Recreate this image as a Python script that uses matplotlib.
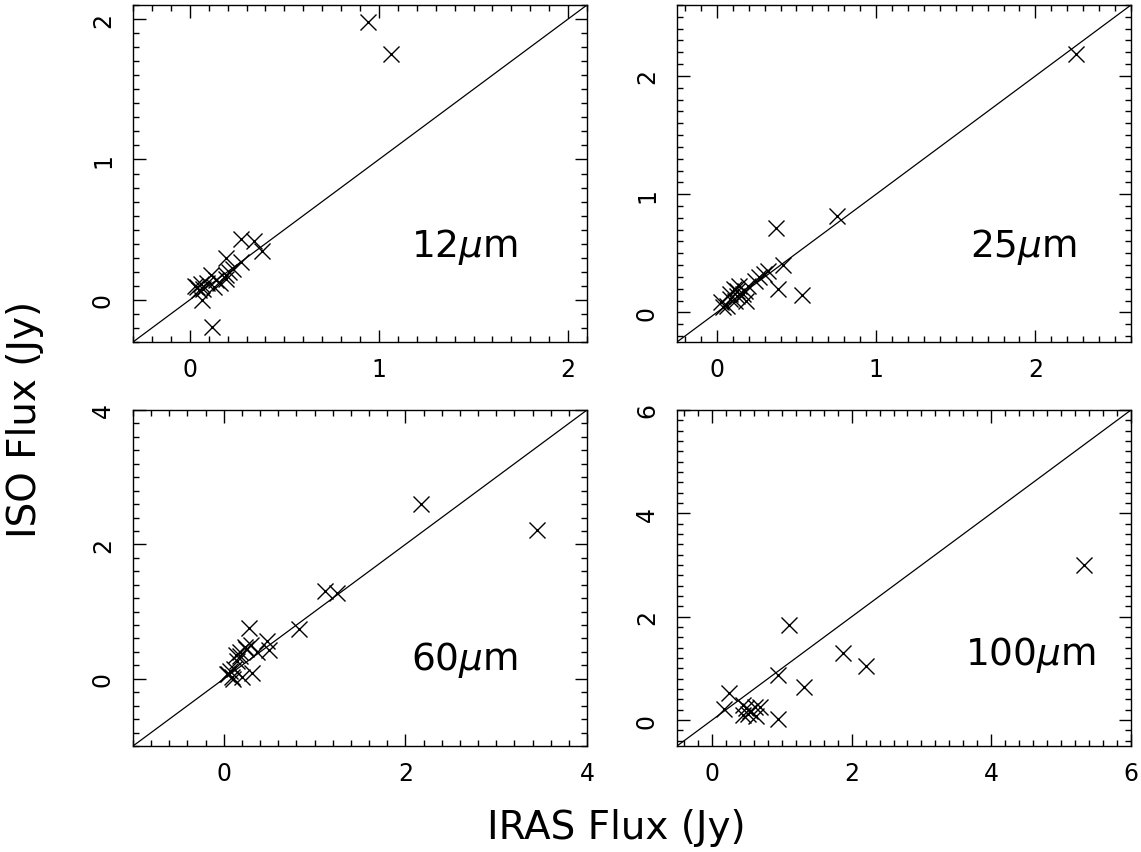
import matplotlib
matplotlib.use("Agg")
import matplotlib.pyplot as plt
from matplotlib.ticker import MultipleLocator

# ---- data (IRAS flux vs ISO flux, Jy) ----
iras_12 = [0.943, 1.065, 0.12, 0.065, 0.27, 0.34, 0.38, 0.19, 0.27, 0.19, 0.14, 0.11,
           0.13, 0.19, 0.04, 0.03, 0.05, 0.07, 0.06, 0.09, 0.23, 0.16, 0.21]
iso_12 = [1.98, 1.75, -0.195, 0.0, 0.43, 0.42, 0.35, 0.30, 0.27, 0.18, 0.14, 0.18,
          0.09, 0.15, 0.09, 0.10, 0.07, 0.08, 0.11, 0.12, 0.22, 0.12, 0.20]

iras_25 = [2.255, 0.755, 0.372, 0.417, 0.383, 0.534, 0.264, 0.298, 0.32, 0.241, 0.129, 0.106,
           0.14, 0.174, 0.185, 0.162, 0.196, 0.083, 0.061, 0.027, 0.038, 0.083, 0.117, 0.129]
iso_25 = [2.183, 0.817, 0.71, 0.403, 0.197, 0.149, 0.296, 0.324, 0.352, 0.268, 0.183, 0.197,
          0.225, 0.183, 0.099, 0.155, 0.225, 0.155, 0.056, 0.085, 0.042, 0.113, 0.099, 0.141]

iras_60 = [3.448, 2.177, 1.116, 1.25, 0.829, 0.28, 0.472, 0.5, 0.31, 0.233, 0.362, 0.178,
           0.142, 0.068, 0.032, 0.105, 0.197, 0.135, 0.093, 0.05, 0.114, 0.177, 0.24, 0.3]
iso_60 = [2.218, 2.599, 1.302, 1.272, 0.743, 0.75, 0.56, 0.43, 0.08, 0.469, 0.394, 0.344,
          0.27, 0.12, 0.07, 0.0, 0.03, 0.347, 0.025, 0.074, 0.149, 0.396, 0.446, 0.5]

iras_100 = [5.327, 1.108, 1.874, 2.206, 1.318, 0.945, 0.945, 0.245, 0.172, 0.44, 0.488,
            0.44, 0.52, 0.62, 0.688, 0.631, 0.55]
iso_100 = [2.994, 1.846, 1.295, 1.045, 0.641, 0.878, 0.019, 0.53, 0.22, 0.29, 0.229,
           0.10, 0.119, 0.248, 0.26, 0.086, 0.18]

labels = ["12$\\mu$m", "25$\\mu$m", "60$\\mu$m", "100$\\mu$m"]
limits = [(-0.3, 2.1), (-0.25, 2.6), (-1.0, 4.0), (-0.5, 6.0)]
majors = [1, 1, 2, 2]
minors = [0.1, 0.1, 0.2, 0.2]

W, H = 1141, 853
fig = plt.figure(figsize=(W / 100, H / 100), dpi=100)

# axes boxes in pixels: left, top, right, bottom
boxes = [(133, 6, 587, 343), (677, 6, 1131, 343),
         (133, 411, 587, 747), (677, 411, 1131, 747)]
label_pos = [(0.731, 0.285), (0.762, 0.285), (0.729, 0.259), (0.778, 0.274)]
data = [(iras_12, iso_12), (iras_25, iso_25), (iras_60, iso_60), (iras_100, iso_100)]

for i in range(4):
    l, t, r, b = boxes[i]
    ax = fig.add_axes([l / W, (H - b) / H, (r - l) / W, (b - t) / H])
    lo, hi = limits[i]
    ax.plot([lo, hi], [lo, hi], color="black", lw=0.9)
    xs, ys = data[i]
    ax.plot(xs, ys, linestyle="none", marker="x", markersize=11,
            markeredgewidth=1.0, color="black")
    ax.set_xlim(lo, hi)
    ax.set_ylim(lo, hi)
    ax.xaxis.set_major_locator(MultipleLocator(majors[i]))
    ax.yaxis.set_major_locator(MultipleLocator(majors[i]))
    ax.xaxis.set_minor_locator(MultipleLocator(minors[i]))
    ax.yaxis.set_minor_locator(MultipleLocator(minors[i]))
    ax.tick_params(which="both", direction="in", top=True, right=True,
                   width=1.0, colors="black")
    ax.tick_params(which="major", length=9, labelsize=17)
    ax.tick_params(which="minor", length=4.5)
    ax.tick_params(axis="x", which="major", pad=11)
    ax.tick_params(axis="y", which="major", pad=13)
    for lab in ax.get_yticklabels():
        lab.set_rotation(90)
        lab.set_va("center")
    for s in ax.spines.values():
        s.set_linewidth(1.0)
    ax.text(label_pos[i][0], label_pos[i][1], labels[i], transform=ax.transAxes,
            ha="center", va="center", fontsize=27)

fig.text(0.540, 0.029, "IRAS Flux (Jy)", ha="center", va="center", fontsize=28)
fig.text(0.022, 0.508, "ISO Flux (Jy)", ha="center", va="center", fontsize=28,
         rotation=90)

fig.savefig("out.png", dpi=100)
